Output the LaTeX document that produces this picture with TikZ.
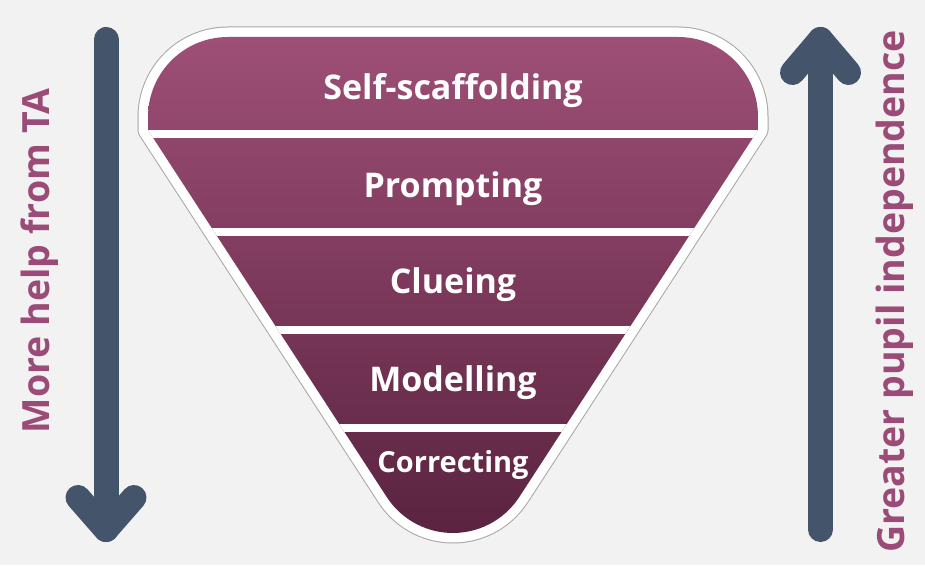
\documentclass[tikz,border=0pt]{standalone}
\usepackage{fontspec}
\setmainfont{Open Sans}
\definecolor{bgc}{HTML}{F2F2F2}
\definecolor{arrowc}{HTML}{44546A}
\definecolor{sidec}{HTML}{9B4B77}
\definecolor{toptone}{RGB}{158,79,118}
\definecolor{bottone}{RGB}{90,35,64}
\definecolor{rimc}{HTML}{A6A6A6}
\tikzset{
  bandlabel/.style={text=white, font=\bfseries\fontsize{34}{40}\selectfont, anchor=base, inner sep=0pt},
  sidelabel/.style={text=sidec, font=\bfseries\fontsize{37.5}{44}\selectfont, rotate=90, inner sep=0pt},
  bigarrow/.style={draw=arrowc, line width=25pt, line cap=round, line join=round},
  sepline/.style={draw=white, line width=8pt}
}
\newcommand{\funnelpath}{(386.8,67.9) -- (148,435) -- (148,448) arc[start angle=180, end angle=90, radius=80] -- (678,528) arc[start angle=90, end angle=0, radius=80] -- (758,435) -- (519.2,67.9) arc[start angle=-33.07, end angle=-146.93, radius=79] -- cycle}
\begin{document}
\begin{tikzpicture}[x=1pt,y=1pt]
\fill[bgc] (0,0) rectangle (925,565);
\useasboundingbox (0,0) rectangle (925,565);
% rim
\draw[rimc, line width=21pt, line join=round] \funnelpath;
\draw[white, line width=19pt, line join=round] \funnelpath;
\shade[top color=toptone, bottom color=bottone] \funnelpath;
\begin{scope}
\clip \funnelpath;
\foreach \yy in {431,333,235,137}{
  \draw[sepline] (100,\yy) -- (820,\yy);
}
\end{scope}
% band labels
\node[bandlabel] (l1) at (453,465) {Self-scaffolding};
\node[bandlabel] (l2) at (453,367) {Prompting};
\node[bandlabel] (l3) at (453,271) {Clueing};
\node[bandlabel] (l4) at (453,174) {Modelling};
\node[bandlabel, font=\bfseries\fontsize{29}{35}\selectfont] (l5) at (453,93) {Correcting};
% side labels
\node[sidelabel] (sl) at (39.5,304) {More help from TA};
\node[sidelabel] (sr) at (895,273.5) {Greater pupil independence};
% arrows
\coordinate (ltop) at (106,525.5);
\coordinate (ltip) at (106,35.5);
\coordinate (lhl) at (78,67.5);
\coordinate (lhr) at (134,67.5);
\draw[bigarrow] (ltop) -- (ltip);
\draw[bigarrow] (lhl) -- (ltip) -- (lhr);
\coordinate (rbot) at (820.5,35.5);
\coordinate (rtip) at (820.5,525.5);
\coordinate (rhl) at (792.5,492.5);
\coordinate (rhr) at (848.5,492.5);
\draw[bigarrow] (rbot) -- (rtip);
\draw[bigarrow] (rhl) -- (rtip) -- (rhr);
\end{tikzpicture}
\end{document}
